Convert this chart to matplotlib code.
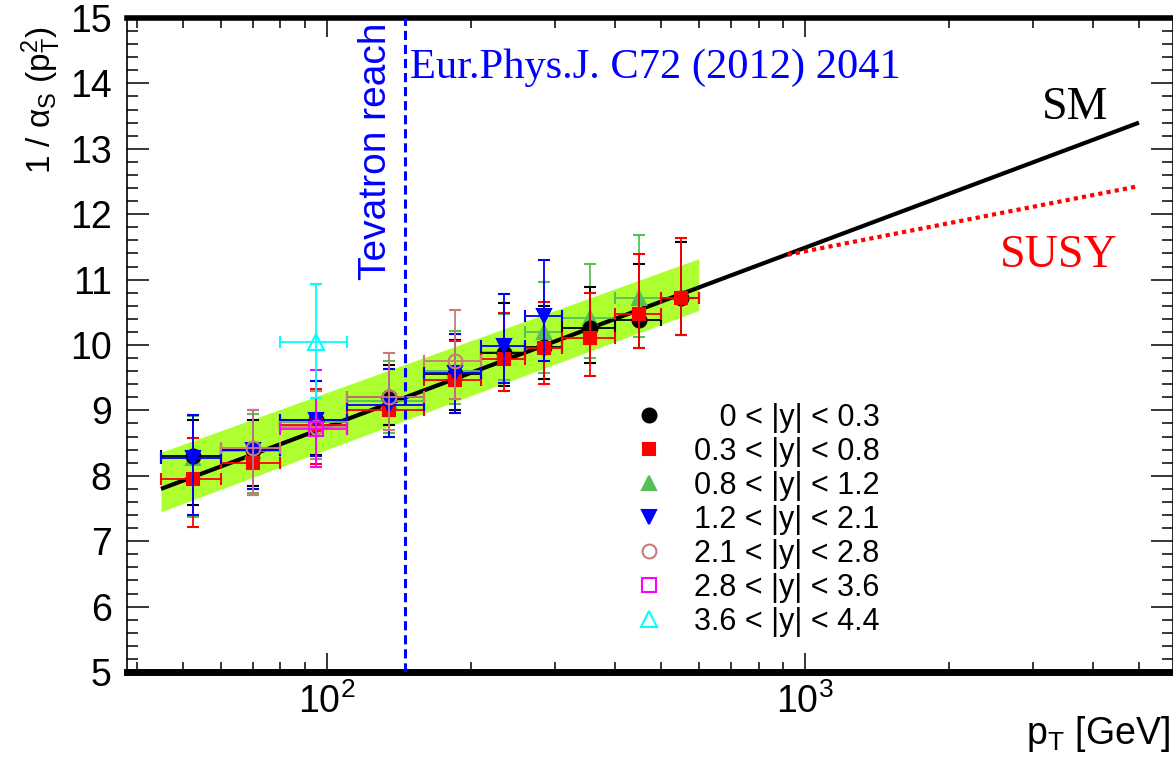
import numpy as np
import matplotlib
matplotlib.use('Agg')
import matplotlib.pyplot as plt
from matplotlib.ticker import MultipleLocator, LogLocator, NullFormatter, FixedLocator

plt.rcParams['font.family'] = ['Liberation Sans', 'DejaVu Sans']
plt.rcParams['mathtext.fontset'] = 'custom'
plt.rcParams['mathtext.rm'] = 'Liberation Sans'
plt.rcParams['mathtext.it'] = 'Liberation Sans:italic'

# pT bins [GeV]
bin_lo = [45, 60, 80, 110, 160, 210, 260, 310, 400, 500]
bin_hi = [60, 80, 110, 160, 210, 260, 310, 400, 500, 600]
pt_c = [52.5, 70, 95, 135, 185, 235, 285, 355, 450, 550]

# 1/alpha_s per rapidity bin (bin index, value, err up, err down)
idx_y1 = [0, 1, 2, 3, 4, 5, 6, 7, 8, 9]
val_y1 = [8.30, 8.40, 8.85, 9.20, 9.55, 9.88, 9.97, 10.26, 10.38, 10.72]
up_y1 = [0.55, 0.45, 0.60, 0.50, 0.52, 0.76, 0.63, 0.63, 0.86, 0.86]
dn_y1 = [0.75, 0.55, 0.53, 0.42, 0.55, 0.51, 0.49, 0.54, 0.42, 0.57]

idx_y2 = [0, 1, 2, 3, 4, 5, 6, 7, 8, 9]
val_y2 = [7.95, 8.20, 8.78, 9.00, 9.46, 9.78, 9.95, 10.10, 10.47, 10.72]
up_y2 = [0.63, 0.80, 0.55, 0.63, 0.60, 0.71, 0.71, 0.69, 0.92, 0.91]
dn_y2 = [0.74, 0.49, 0.60, 0.40, 0.50, 0.48, 0.55, 0.57, 0.51, 0.57]

idx_y3 = [0, 1, 2, 3, 4, 5, 6, 7, 8]
val_y3 = [8.27, 8.38, 8.82, 9.15, 9.60, 9.90, 10.20, 10.41, 10.72]
up_y3 = [0.64, 0.56, 0.48, 0.60, 0.61, 0.58, 0.76, 0.83, 0.96]
dn_y3 = [0.90, 0.64, 0.52, 0.50, 0.50, 0.44, 0.63, 0.61, 0.60]

idx_y4 = [0, 1, 2, 3, 4, 5, 6]
val_y4 = [8.27, 8.40, 8.85, 9.08, 9.57, 9.98, 10.44]
up_y4 = [0.66, 0.60, 0.60, 0.55, 0.60, 0.80, 0.86]
dn_y4 = [0.87, 0.60, 0.55, 0.48, 0.61, 0.56, 0.69]

idx_y5 = [1, 2, 3, 4]
val_y5 = [8.42, 8.75, 9.20, 9.75]
up_y5 = [0.58, 0.55, 0.68, 0.78]
dn_y5 = [0.71, 0.50, 0.50, 0.58]

idx_y6 = [2]
val_y6 = [8.72]
up_y6 = [0.90]
dn_y6 = [0.59]

idx_y7 = [2]
val_y7 = [10.05]
up_y7 = [0.88]
dn_y7 = [0.86]

labels = ['\u2007\u20080 < |y| < 0.3', '0.3 < |y| < 0.8', '0.8 < |y| < 1.2',
          '1.2 < |y| < 2.1', '2.1 < |y| < 2.8', '2.8 < |y| < 3.6', '3.6 < |y| < 4.4']

# SM running and SUSY modification, fit band
sm_pt = [45, 5000]
sm_val = [7.80, 13.40]
susy_pt = [920, 5000]
susy_val = [11.38, 12.43]
band_pt = [45, 600]
band_lo = [7.45, 10.53]
band_hi = [8.36, 11.32]
tevatron_pt = 146

fig = plt.figure(figsize=(11.73, 7.58), dpi=100)
ax = fig.add_axes([127 / 1173, 86 / 758, 1046 / 1173, 654 / 758])

ax.fill_between(band_pt, band_lo, band_hi, color='#adff2f', lw=0, zorder=1)
ax.plot(sm_pt, sm_val, color='black', lw=3, zorder=2, solid_capstyle='butt')
ax.plot(susy_pt, susy_val, color='red', lw=3, ls=(0, (1, 1)), zorder=2)
ax.axvline(tevatron_pt, color='#0000ff', lw=2.2, ls=(0, (3, 1.6)), zorder=5)

# (data, marker, colour, filled, size, draw order)
series = [
    (idx_y1, val_y1, up_y1, dn_y1, 'o', 'black', True, 10, 4.2),
    (idx_y2, val_y2, up_y2, dn_y2, 's', 'red', True, 9, 4.3),
    (idx_y3, val_y3, up_y3, dn_y3, '^', '#55c155', True, 10, 4.1),
    (idx_y4, val_y4, up_y4, dn_y4, 'v', '#0000ff', True, 10, 4.4),
    (idx_y5, val_y5, up_y5, dn_y5, 'o', '#c97b7b', False, 10, 4.5),
    (idx_y6, val_y6, up_y6, dn_y6, 's', '#ff00ff', False, 10, 4.6),
    (idx_y7, val_y7, up_y7, dn_y7, '^', '#00ffff', False, 11, 4.7),
]

handles = []
for idx, val, up, dn, mk, col, filled, ms, z in series:
    x = np.array([pt_c[i] for i in idx])
    xl = x - np.array([bin_lo[i] for i in idx])
    xh = np.array([bin_hi[i] for i in idx]) - x
    cont = ax.errorbar(x, val, xerr=[xl, xh], yerr=[dn, up], fmt=mk, color=col,
                       ms=ms, mfc=col if filled else 'none', mew=1.5,
                       elinewidth=1.3, capsize=4, capthick=1.3, zorder=z)
    handles.append(cont[0])

ax.set_xscale('log')
ax.set_xlim(38.2, 5890)
ax.set_ylim(5, 15)

ax.xaxis.set_major_locator(FixedLocator([100, 1000]))
ax.xaxis.set_minor_locator(LogLocator(base=10, subs=np.arange(2, 10)))
ax.xaxis.set_minor_formatter(NullFormatter())
ax.set_xticks([100, 1000])
ax.set_xticklabels([r'$10^{2}$', r'$10^{3}$'])
ax.yaxis.set_major_locator(MultipleLocator(1))
ax.yaxis.set_minor_locator(MultipleLocator(0.2))

ax.tick_params(which='both', direction='in', top=True, right=True, width=1.1)
ax.tick_params(axis='x', which='major', length=14, labelsize=27, pad=8)
ax.tick_params(axis='x', which='minor', length=7)
ax.tick_params(axis='y', which='major', length=16, labelsize=27, pad=11)
ax.tick_params(axis='y', which='minor', length=8)

ax.spines['top'].set_linewidth(4)
ax.spines['bottom'].set_linewidth(5)
ax.spines['left'].set_linewidth(1.2)
ax.spines['right'].set_linewidth(1.2)

ax.set_ylabel(r'1 / $\mathrm{\alpha_{S}}$ ($\mathrm{p_{T}^{2}}$)', fontsize=24)
ax.yaxis.set_label_coords(-0.061, 0.875)
fig.text(0.997, 0.018, r'$\mathrm{p_{T}}$ [GeV]', fontsize=27, ha='right', va='baseline')

ax.text(149, 14.08, 'Eur.Phys.J. C72 (2012) 2041', color='#0000ff', fontsize=30.6,
        family='Liberation Serif', va='baseline')
ax.text(126.7, 10.99, 'Tevatron reach', color='#0000ff', fontsize=28, rotation=90,
        ha='center', va='bottom')
ax.text(3133, 13.46, 'SM', color='black', fontsize=33, family='Liberation Serif', va='baseline')
ax.text(2558, 11.19, 'SUSY', color='red', fontsize=33, family='Liberation Serif', va='baseline')

leg = ax.legend(handles, labels, loc='upper left', bbox_to_anchor=(634 / 1173, (758 - 403) / 758),
                bbox_transform=fig.transFigure, frameon=False, fontsize=22, borderpad=0,
                borderaxespad=0, handlelength=1.0, handletextpad=0.95, labelspacing=0.13)

fig.savefig('out.png', dpi=100)
